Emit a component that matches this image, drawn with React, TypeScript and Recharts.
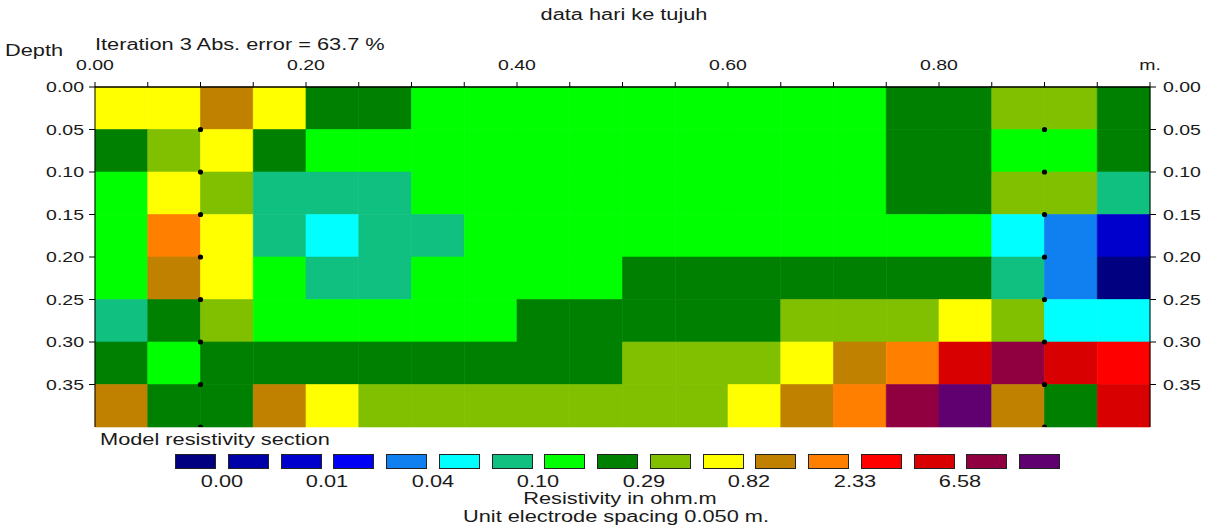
import React from 'react';
import { ComposedChart, XAxis, YAxis, ReferenceArea, Scatter } from 'recharts';

// model block layout (m)
const columnStarts = [
  0.0, 0.05, 0.1, 0.15, 0.2, 0.25, 0.3, 0.35, 0.4, 0.45,
  0.5, 0.55, 0.6, 0.65, 0.7, 0.75, 0.8, 0.85, 0.9, 0.95,
];
const depthTops = [0.0, 0.05, 0.1, 0.15, 0.2, 0.25, 0.3, 0.35];
const blockSize = 0.05;

// model resistivity (ohm.m), one list per depth layer
const layer1 = [0.63, 0.63, 1.07, 0.63, 0.22, 0.22, 0.13, 0.13, 0.13, 0.13, 0.13, 0.13, 0.13, 0.13, 0.13, 0.22, 0.22, 0.38, 0.38, 0.22];
const layer2 = [0.22, 0.38, 0.63, 0.22, 0.13, 0.13, 0.13, 0.13, 0.13, 0.13, 0.13, 0.13, 0.13, 0.13, 0.13, 0.22, 0.22, 0.13, 0.13, 0.22];
const layer3 = [0.13, 0.63, 0.38, 0.078, 0.078, 0.078, 0.13, 0.13, 0.13, 0.13, 0.13, 0.13, 0.13, 0.13, 0.13, 0.22, 0.22, 0.38, 0.38, 0.078];
const layer4 = [0.13, 1.8, 0.63, 0.078, 0.047, 0.078, 0.078, 0.13, 0.13, 0.13, 0.13, 0.13, 0.13, 0.13, 0.13, 0.13, 0.13, 0.047, 0.028, 0.01];
const layer5 = [0.13, 1.07, 0.63, 0.13, 0.078, 0.078, 0.13, 0.13, 0.13, 0.13, 0.22, 0.22, 0.22, 0.22, 0.22, 0.22, 0.22, 0.078, 0.028, 0.003];
const layer6 = [0.078, 0.22, 0.38, 0.13, 0.13, 0.13, 0.13, 0.13, 0.22, 0.22, 0.22, 0.22, 0.22, 0.38, 0.38, 0.38, 0.63, 0.38, 0.047, 0.047];
const layer7 = [0.22, 0.13, 0.22, 0.22, 0.22, 0.22, 0.22, 0.22, 0.22, 0.22, 0.38, 0.38, 0.38, 0.63, 1.07, 1.8, 5.1, 8.5, 5.1, 3.0];
const layer8 = [1.07, 0.22, 0.22, 1.07, 0.63, 0.38, 0.38, 0.38, 0.38, 0.38, 0.38, 0.38, 0.63, 1.07, 1.8, 8.5, 14, 1.07, 0.22, 5.1];
const layers = [layer1, layer2, layer3, layer4, layer5, layer6, layer7, layer8];

// colour scale
const binEdges = [0.0045, 0.0075, 0.0127, 0.021, 0.036, 0.0605, 0.102, 0.172, 0.29, 0.487, 0.82, 1.38, 2.33, 3.9, 6.58, 11.1];
const binColors = [
  '#000080', '#0000a8', '#0000cc', '#0000f4', '#1080f0', '#00ffff',
  '#10c080', '#00ff00', '#008000', '#80c000', '#ffff00', '#c08000',
  '#ff8000', '#ff0000', '#d80000', '#900040', '#600070',
];
const scaleLabels = ['0.00', '0.01', '0.04', '0.10', '0.29', '0.82', '2.33', '6.58'];

// data points drawn on the section
const dataPoints = [
  { x: 0.1, y: 0.05 }, { x: 0.1, y: 0.1 }, { x: 0.1, y: 0.15 }, { x: 0.1, y: 0.2 },
  { x: 0.1, y: 0.25 }, { x: 0.1, y: 0.3 }, { x: 0.1, y: 0.35 }, { x: 0.1, y: 0.4 },
  { x: 0.9, y: 0.05 }, { x: 0.9, y: 0.1 }, { x: 0.9, y: 0.15 }, { x: 0.9, y: 0.2 },
  { x: 0.9, y: 0.25 }, { x: 0.9, y: 0.3 }, { x: 0.9, y: 0.35 }, { x: 0.9, y: 0.4 },
];

const xTicks = [0, 0.05, 0.1, 0.15, 0.2, 0.25, 0.3, 0.35, 0.4, 0.45, 0.5, 0.55, 0.6, 0.65, 0.7, 0.75, 0.8, 0.85, 0.9, 0.95, 1.0];
const xLabelled = [0, 0.2, 0.4, 0.6, 0.8];
const yTicks = [0, 0.05, 0.1, 0.15, 0.2, 0.25, 0.3, 0.35];

const FONT = '"Liberation Sans", Arial, sans-serif';
const INK = '#1a1a1a';

function colorFor(v: number) {
  let i = 0;
  while (i < binEdges.length && v >= binEdges[i]) i++;
  return binColors[i];
}

const blocks = layers.flatMap((row, r) =>
  row.map((v, c) => ({
    x1: columnStarts[c],
    x2: columnStarts[c] + blockSize,
    y1: depthTops[r],
    y2: depthTops[r] + blockSize,
    fill: colorFor(v),
  }))
);

// the original image is stretched sideways, so text gets a horizontal scale
function SvgText({ x, y, anchor, children }: any) {
  return (
    <text
      transform={`translate(${x},${y}) scale(1.3,1)`}
      textAnchor={anchor}
      dy="0.36em"
      fontFamily={FONT}
      fontSize={15}
      fill={INK}
    >
      {children}
    </text>
  );
}

const TopTick = (props: any) => {
  const { x, y, payload } = props;
  const v = payload.value;
  let label = '';
  if (Math.abs(v - 1) < 1e-6) label = 'm.';
  else if (xLabelled.some((t) => Math.abs(t - v) < 1e-6)) label = v.toFixed(2);
  if (!label) return null;
  return <SvgText x={x} y={y - 15} anchor="middle">{label}</SvgText>;
};

const LeftTick = (props: any) => {
  const { x, y, payload } = props;
  return <SvgText x={x - 3} y={y} anchor="end">{payload.value.toFixed(2)}</SvgText>;
};

const RightTick = (props: any) => {
  const { x, y, payload } = props;
  return <SvgText x={x + 5} y={y} anchor="start">{payload.value.toFixed(2)}</SvgText>;
};

function Note({ x, y, align = 'start', children }: any) {
  const s = 1.36;
  const tf =
    align === 'middle'
      ? `translate(-50%,-50%) scaleX(${s})`
      : align === 'end'
      ? `translate(-100%,-50%) scaleX(${s})`
      : `translateY(-50%) scaleX(${s})`;
  const origin = align === 'middle' ? 'center center' : align === 'end' ? 'right center' : 'left center';
  return (
    <div
      style={{
        position: 'absolute',
        left: x,
        top: y,
        transform: tf,
        transformOrigin: origin,
        whiteSpace: 'nowrap',
        fontFamily: FONT,
        fontSize: 16,
        lineHeight: 1,
        color: INK,
      }}
    >
      {children}
    </div>
  );
}

export default function App() {
  const swatchLeft = 175;
  const swatchPitch = 52.75;
  const swatchW = 41;

  return (
    <div style={{ position: 'absolute', left: 0, top: 0, width: 1213, height: 532, background: '#fff' }}>
      <ComposedChart
        width={1213}
        height={532}
        margin={{ top: 57, right: 8, bottom: 105, left: 35 }}
      >
        {blocks.map((b, i) => (
          <ReferenceArea
            key={i}
            xAxisId="top"
            yAxisId="left"
            x1={b.x1}
            x2={b.x2}
            y1={b.y1}
            y2={b.y2}
            fill={b.fill}
            fillOpacity={1}
            stroke={b.fill}
            strokeWidth={0.6}
            ifOverflow="visible"
          />
        ))}
        <Scatter
          xAxisId="top"
          yAxisId="left"
          data={dataPoints}
          dataKey="y"
          isAnimationActive={false}
          shape={(p: any) => <circle cx={p.cx} cy={p.cy} r={2.6} fill="#000" />}
        />
        <XAxis
          xAxisId="top"
          type="number"
          dataKey="x"
          orientation="top"
          domain={[0, 1]}
          allowDataOverflow
          ticks={xTicks}
          interval={0}
          height={30}
          tickSize={5}
          tick={<TopTick />}
          axisLine={{ stroke: '#000', strokeWidth: 1.3 }}
          tickLine={{ stroke: '#000' }}
        />
        <YAxis
          yAxisId="left"
          type="number"
          dataKey="y"
          domain={[0, 0.4]}
          reversed
          allowDataOverflow
          ticks={yTicks}
          interval={0}
          width={60}
          tickSize={6}
          tick={<LeftTick />}
          axisLine={{ stroke: '#000' }}
          tickLine={{ stroke: '#000' }}
        />
        <YAxis
          yAxisId="right"
          orientation="right"
          type="number"
          domain={[0, 0.4]}
          reversed
          allowDataOverflow
          ticks={yTicks}
          interval={0}
          width={55}
          tickSize={6}
          tick={<RightTick />}
          axisLine={{ stroke: '#000' }}
          tickLine={{ stroke: '#000' }}
        />
      </ComposedChart>

      <Note x={624} y={15} align="middle">data hari ke tujuh</Note>
      <Note x={5} y={51}>Depth</Note>
      <Note x={95} y={45}>Iteration 3 Abs. error = 63.7 %</Note>

      <Note x={100} y={440}>Model resistivity section</Note>
      {binColors.map((c, i) => (
        <div
          key={c}
          style={{
            position: 'absolute',
            left: swatchLeft + i * swatchPitch,
            top: 454,
            width: swatchW,
            height: 15,
            background: c,
            border: '1px solid #222',
            boxSizing: 'border-box',
          }}
        />
      ))}
      {scaleLabels.map((t, k) => (
        <Note key={t} x={swatchLeft + (2 * k + 1) * swatchPitch - (swatchPitch - swatchW) / 2} y={482} align="middle">
          {t}
        </Note>
      ))}
      <Note x={620} y={499} align="middle">Resistivity in ohm.m</Note>
      <Note x={616} y={517} align="middle">Unit electrode spacing 0.050 m.</Note>
    </div>
  );
}
